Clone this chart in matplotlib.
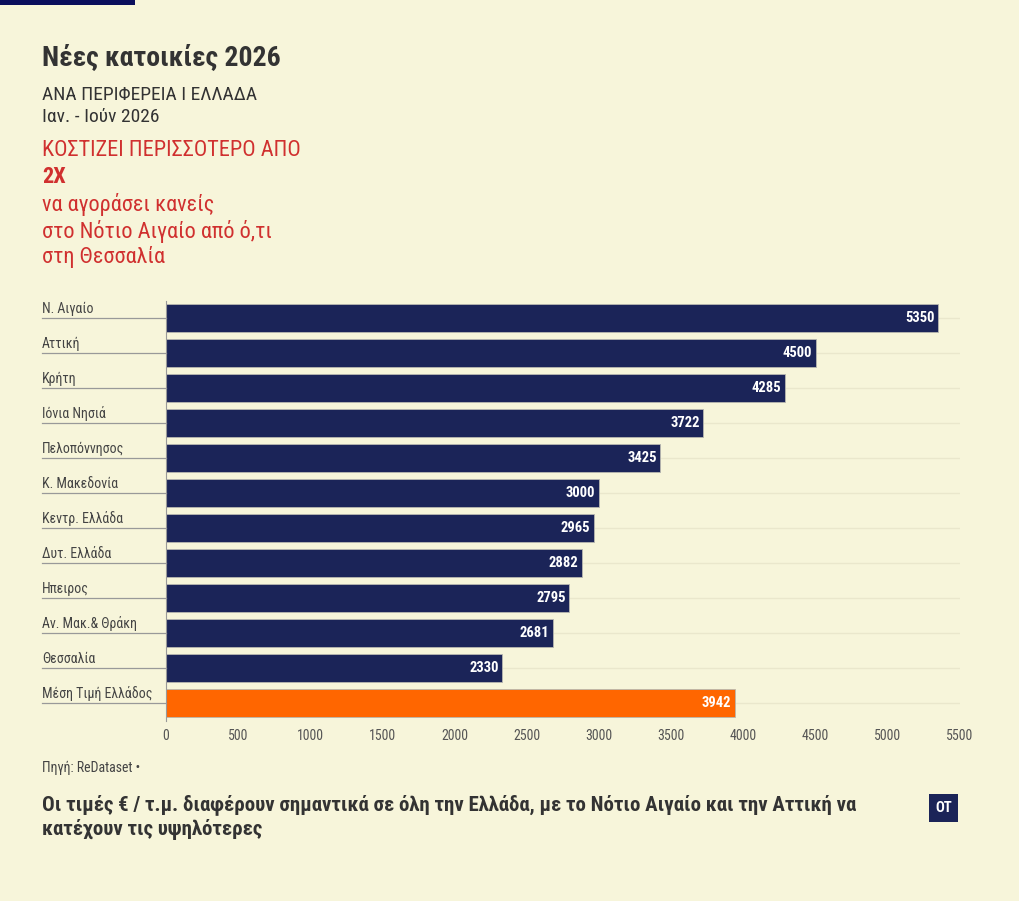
import matplotlib.pyplot as plt
import matplotlib.transforms as mtransforms
from matplotlib.patches import Rectangle

plt.rcParams['font.family'] = ['Roboto Condensed', 'Roboto', 'DejaVu Sans']

regions = ["Ν. Αιγαίο", "Αττική", "Κρήτη", "Ιόνια Νησιά", "Πελοπόννησος",
           "Κ. Μακεδονία", "Κεντρ. Ελλάδα", "Δυτ. Ελλάδα", "Ηπειρος",
           "Αν. Μακ.& Θράκη", "Θεσσαλία", "Μέση Τιμή Ελλάδος"]
prices = [5350, 4500, 4285, 3722, 3425, 3000, 2965, 2882, 2795, 2681, 2330, 3942]
xticks = list(range(0, 5501, 500))

BG = "#F7F5DA"
NAVY = "#1B2458"
ORANGE = "#FF6600"
RED = "#D0302F"
DARK = "#333333"

W, H = 1020, 901
fig = plt.figure(figsize=(W / 100, H / 100), dpi=100, facecolor=BG)


def fx(px):
    return px / W


def fy(py):
    return 1 - py / H


# top corner bar
fig.patches.append(Rectangle((0, fy(5)), fx(135), 5 / H, transform=fig.transFigure,
                             facecolor="#0B0F5C", edgecolor="none"))

fig.text(fx(42), fy(58), "Νέες κατοικίες 2026", fontsize=20, fontweight="bold",
         color=DARK, va="center")
fig.text(fx(42), fy(95), "ΑΝΑ ΠΕΡΙΦΕΡΕΙΑ Ι ΕΛΛΑΔΑ", fontsize=14, color=DARK, va="center")
fig.text(fx(42), fy(117), "Ιαν. - Ιούν 2026", fontsize=14, color=DARK, va="center")
fig.text(fx(42), fy(151), "ΚΟΣΤΙΖΕΙ ΠΕΡΙΣΣΟΤΕΡΟ ΑΠΟ", fontsize=16, color=RED, va="center")
fig.text(fx(42), fy(177), "2Χ", fontsize=16, color=RED, fontweight="bold", va="center")
fig.text(fx(42), fy(205), "να αγοράσει κανείς", fontsize=16, color=RED, va="center")
fig.text(fx(42), fy(231), "στο Νότιο Αιγαίο από ό,τι", fontsize=16, color=RED, va="center")
fig.text(fx(42), fy(257), "στη Θεσσαλία", fontsize=16, color=RED, va="center")

ax = fig.add_axes([fx(166), fy(720.5), fx(960) - fx(166), (720.5 - 300.5) / H])
ax.set_facecolor(BG)
n = len(regions)
ypos = list(range(n))
colors = [NAVY] * (n - 1) + [ORANGE]

for y in ypos:
    ax.axhline(y, color="#EAE7CC", lw=1, zorder=0)

ax.barh(ypos, prices, height=0.8, color=colors, edgecolor="#B8B8B0", linewidth=0.6, zorder=2)
ax.set_xlim(0, 5500)
ax.set_ylim(n - 0.5, -0.5)
ax.set_xticks(xticks)
ax.set_xticklabels([str(t) for t in xticks], fontsize=10, color="#555555")
ax.tick_params(axis="x", length=0, pad=6)
ax.set_yticks([])
for s in ["top", "right", "bottom"]:
    ax.spines[s].set_visible(False)
ax.spines["left"].set_color("#999999")
ax.spines["left"].set_linewidth(0.8)

for y, v in zip(ypos, prices):
    ax.text(v - 25, y, str(v), color="white", fontsize=10.5, fontweight="bold",
            ha="right", va="center", zorder=3)

# category labels with underline on the left
trans = mtransforms.blended_transform_factory(fig.transFigure, ax.transData)
for y, name in zip(ypos, regions):
    ax.text(fx(42), y - 0.06, name, transform=trans, fontsize=10, color="#444444",
            ha="left", va="bottom", clip_on=False)
    ax.plot([fx(42), fx(166)], [y, y], transform=trans, color="#999999", lw=0.9,
            clip_on=False)

fig.text(fx(42), fy(768), "Πηγή: ReDataset •", fontsize=10, color="#444444", va="center")
fig.text(fx(42), fy(805), "Οι τιμές € / τ.μ. διαφέρουν σημαντικά σε όλη την Ελλάδα, "
         "με το Νότιο Αιγαίο και την Αττική να", fontsize=15, fontweight="bold",
         color=DARK, va="center")
fig.text(fx(42), fy(830), "κατέχουν τις υψηλότερες", fontsize=15, fontweight="bold",
         color=DARK, va="center")

fig.patches.append(Rectangle((fx(929), fy(822)), fx(29), 28 / H, transform=fig.transFigure,
                             facecolor=NAVY, edgecolor="none"))
fig.text(fx(943.5), fy(808), "OT", fontsize=10.5, fontweight="bold", color="white",
         ha="center", va="center")

fig.savefig("out.png", dpi=100, facecolor=BG)
